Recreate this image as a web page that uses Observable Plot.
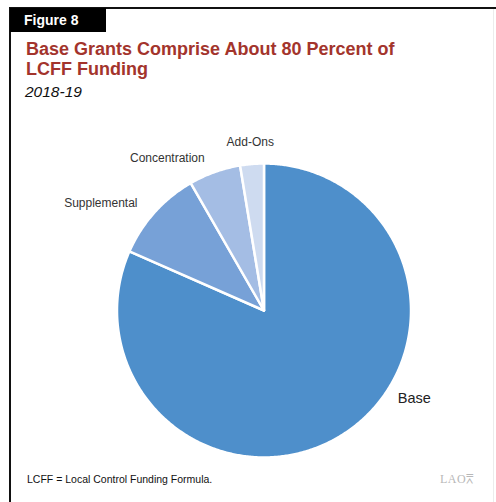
<!DOCTYPE html>
<html>
<head>
<meta charset="utf-8">
<script src="https://cdn.jsdelivr.net/npm/d3@7"></script>
<script src="https://cdn.jsdelivr.net/npm/@observablehq/plot@0.6"></script>
<style>
  html, body { margin: 0; padding: 0; background: #fff; }
  #page { position: relative; width: 496px; height: 502px; overflow: hidden; font-family: "Liberation Sans", Arial, sans-serif; }
  #frameTop { position: absolute; left: 10px; top: 7px; width: 486px; height: 2px; background: #111; }
  #frameLeft { position: absolute; left: 9px; top: 7px; width: 2px; height: 495px; background: #111; }
  #frameRight { position: absolute; left: 493px; top: 9px; width: 1px; height: 493px; background: #ececec; }
  #fig { position: absolute; left: 10px; top: 8px; width: 96px; height: 24px; background: #000; color: #fff; font-weight: bold; font-size: 14px; line-height: 24px; padding-left: 14px; box-sizing: border-box; }
  #title { position: absolute; left: 26px; top: 39px; color: #a3342c; font-weight: bold; font-size: 18px; line-height: 20px; }
  #subtitle { position: absolute; left: 25px; top: 84px; font-style: italic; font-size: 15.5px; line-height: 1; color: #111; }
  #chart { position: absolute; left: 0; top: 120px; }
  #caption { position: absolute; left: 27px; top: 474px; font-size: 10.5px; line-height: 1; color: #111; }
  #logo { position: absolute; left: 440px; top: 472px; font-family: "Liberation Serif", serif; font-size: 12px; color: #b8b8b8; letter-spacing: 0.5px; }
</style>
</head>
<body>
<div id="page">
  <div id="frameTop"></div>
  <div id="frameLeft"></div>
  <div id="frameRight"></div>
  <div id="fig">Figure 8</div>
  <div id="title">Base Grants Comprise About 80 Percent of<br>LCFF Funding</div>
  <div id="subtitle">2018-19</div>
  <div id="chart"></div>
  <div id="caption">LCFF = Local Control Funding Formula.</div>
  <div id="logo">LAO&#x2A5E;</div>
</div>
<script>
// Data (percent of LCFF funding)
const categories = ["Base", "Supplemental", "Concentration", "Add-Ons"];
const shares = [81.6, 10.1, 5.7, 2.6];
const colors = ["#4e8fcb", "#77a1d7", "#a4bde4", "#cedbf0"];

// Pie geometry (angles clockwise from 12 o'clock), via d3.pie
const pie = d3.pie().sort(null).value(d => d.share);
const arcs = pie(categories.map((name, i) => ({name, share: shares[i]})));

const pts = [];
for (const a of arcs) {
  const name = a.data.name;
  pts.push({name, x: 0, y: 0});
  const n = Math.max(2, Math.ceil((a.endAngle - a.startAngle) / (Math.PI / 360)));
  for (let k = 0; k <= n; k++) {
    const t = a.startAngle + (a.endAngle - a.startAngle) * k / n;
    pts.push({name, x: Math.sin(t), y: Math.cos(t)});
  }
  pts.push({name, x: 0, y: 0});
}

// Label positions: outside the pie at the slice mid-angle; the big slice's label sits lower right
const labels = arcs.map((a, i) => {
  const big = i === 0;
  const t = big ? a.startAngle + (a.endAngle - a.startAngle) * 0.42 : (a.startAngle + a.endAngle) / 2;
  const s = Math.sin(t);
  const anchor = Math.abs(s) < 0.15 ? "middle" : (s < 0 ? "end" : "start");
  const r = big ? 1.09 : (anchor === "middle" ? 1.15 : 1.12);
  return {name: a.data.name, x: r * s, y: r * Math.cos(t), big, anchor};
});

const W = 496, H = 350, R = 147, cx = 263.5, cy = 190;
const chart = Plot.plot({
  width: W, height: H,
  margin: 0,
  style: {background: "transparent", fontFamily: "Liberation Sans, Arial, sans-serif", overflow: "visible"},
  x: {domain: [-cx / R, (W - cx) / R], axis: null},
  y: {domain: [-(H - cy) / R, cy / R], axis: null},
  color: {domain: categories, range: colors},
  marks: [
    Plot.line(pts, {x: "x", y: "y", z: "name", fill: "name", stroke: "white", strokeWidth: 2.5, strokeLinejoin: "round"}),
    Plot.text(labels.filter(d => !d.big && d.anchor === "end"), {x: "x", y: "y", text: "name", textAnchor: "end", dx: -4, dy: 3, fontSize: 12, fill: "#333"}),
    Plot.text(labels.filter(d => !d.big && d.anchor === "middle"), {x: "x", y: "y", text: "name", textAnchor: "middle", fontSize: 12, fill: "#333"}),
    Plot.text(labels.filter(d => !d.big && d.anchor === "start"), {x: "x", y: "y", text: "name", textAnchor: "start", fontSize: 12, fill: "#333"}),
    Plot.text(labels.filter(d => d.big), {x: "x", y: "y", text: "name", textAnchor: "start", fontSize: 14.5, fill: "#222"})
  ]
});
document.getElementById("chart").appendChild(chart);
</script>
</body>
</html>
